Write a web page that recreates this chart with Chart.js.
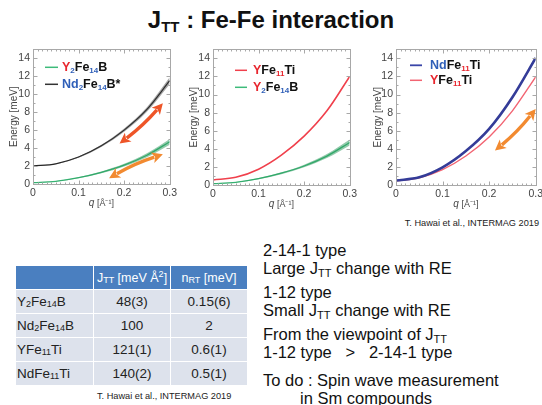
<!DOCTYPE html>
<html><head><meta charset="utf-8">
<script src="https://cdn.jsdelivr.net/npm/chart.js@4.4.1/dist/chart.umd.min.js"></script>
<style>
html,body{margin:0;padding:0;width:542px;height:405px;overflow:hidden;background:#fff;font-family:"Liberation Sans",Arial,sans-serif;}
.abs{position:absolute;}
#title{left:0;top:5px;width:542px;text-align:center;font-weight:bold;font-size:24px;color:#111;line-height:30px;}
#title sub{font-size:15px;vertical-align:-4px;line-height:0;}
.cite{font-size:9.2px;color:#222;white-space:nowrap;}
table{border-collapse:collapse;font-size:13.5px;color:#222;}
td,th{border:1px solid #fff;height:23px;padding:0;width:76px;text-align:center;font-weight:normal;}
th{background:#4a7fc0;color:#fff;font-size:12.5px;}
td{background:#dde2ec;}
td.n{text-align:left;padding-left:1px;}
.sb{font-size:9px;vertical-align:-1px;line-height:0;}
.sp{font-size:9px;vertical-align:5px;line-height:0;}
#notes{left:263px;top:241px;font-size:16.5px;color:#111;line-height:18px;white-space:nowrap;}
#notes p{margin:0 0 6px 0;}
#notes sub{font-size:11px;vertical-align:-3px;line-height:0;}
</style></head><body>
<div id="title" class="abs">J<sub>TT</sub> : Fe-Fe interaction</div>
<canvas id="c1" class="abs" style="left:0;top:40px" width="180" height="170"></canvas>
<canvas id="c2" class="abs" style="left:180px;top:40px" width="180" height="171"></canvas>
<canvas id="c3" class="abs" style="left:360px;top:40px" width="186" height="171"></canvas>
<div class="abs cite" style="right:3px;top:218px;">T. Hawai et al., INTERMAG 2019</div>
<table class="abs" style="left:15px;top:265px;">
<tr><th></th><th>J<span class="sb">TT</span> [meV Å<span class="sp">2</span>]</th><th>n<span class="sb">RT</span> [meV]</th></tr>
<tr><td class="n">Y<span class="sb">2</span>Fe<span class="sb">14</span>B</td><td>48(3)</td><td>0.15(6)</td></tr>
<tr><td class="n">Nd<span class="sb">2</span>Fe<span class="sb">14</span>B</td><td>100</td><td>2</td></tr>
<tr><td class="n">YFe<span class="sb">11</span>Ti</td><td>121(1)</td><td>0.6(1)</td></tr>
<tr><td class="n">NdFe<span class="sb">11</span>Ti</td><td>140(2)</td><td>0.5(1)</td></tr>
</table>
<div class="abs cite" style="left:97px;top:391px;">T. Hawai et al., INTERMAG 2019</div>
<div id="notes" class="abs">
<p>2-14-1 type<br>Large J<sub>TT</sub> change with RE</p>
<p>1-12 type<br>Small J<sub>TT</sub> change with RE</p>
<p>From the viewpoint of J<sub>TT</sub><br>1-12 type &nbsp;&nbsp;&gt;&nbsp;&nbsp; 2-14-1 type</p>
<p style="margin-top:10px">To do : Spin wave measurement<br><span style="padding-left:37px">in Sm compounds</span></p>
</div>
<script>
// ---- data ----
const q = [0, 0.05, 0.1, 0.15, 0.2, 0.25, 0.3];
const y2fe14b   = [0.15, 0.30, 0.70, 1.30, 2.10, 3.20, 4.70];
const y2fe14bLo = [0.12, 0.27, 0.64, 1.20, 1.95, 2.98, 4.38];
const y2fe14bHi = [0.18, 0.33, 0.76, 1.40, 2.25, 3.42, 5.02];
const nd2fe14b   = [2.00, 2.25, 3.00, 4.25, 6.00, 8.30, 11.50];
const nd2fe14bLo = [1.98, 2.22, 2.93, 4.13, 5.82, 8.04, 11.10];
const nd2fe14bHi = [2.02, 2.28, 3.07, 4.37, 6.18, 8.56, 11.90];
const yfe11ti  = [0.55, 0.85, 1.75, 3.30, 5.40, 8.20, 12.00];
const yfe11ti3 = [0.45, 0.80, 1.70, 3.20, 5.30, 8.20, 11.95];
const ndfe11ti = [0.50, 0.85, 1.95, 3.75, 6.20, 9.70, 14.05];
const xTicks = [0, 0.1, 0.2, 0.3];
const yTicks = [0, 2, 4, 6, 8, 10, 12, 14];
// arrows: [q1, E1, q2, E2]
const arrows1a = [0.19, 4.5, 0.285, 9.0];
const arrows1b = [0.167, 0.65, 0.285, 3.3];
const arrows3a = [0.2125, 3.8, 0.3, 8.4];

const RED='#e8262e', BLUE='#2f5fb8', BLK='#111';
const FONT='"Liberation Sans", Arial, sans-serif';
const pts = v => q.map((x,i)=>({x:x,y:v[i]}));

function drawRich(ctx, x, y, parts){
  for(const [t,c,s] of parts){
    ctx.font = s ? 'bold 8px '+FONT : 'bold 12.5px '+FONT;
    ctx.fillStyle = c;
    ctx.fillText(t, x, s ? y+3 : y);
    x += ctx.measureText(t).width;
  }
}
function arrow(ctx, p1, p2, color, bend){
  const dx=p2.x-p1.x, dy=p2.y-p1.y, L=Math.hypot(dx,dy), ux=dx/L, uy=dy/L;
  const nx=-uy, ny=ux, h=9, w=5.5;
  const mx=(p1.x+p2.x)/2+nx*bend, my=(p1.y+p2.y)/2+ny*bend;
  ctx.save(); ctx.strokeStyle=color; ctx.fillStyle=color; ctx.lineWidth=3.4; ctx.lineCap='butt';
  let t1x=mx-p1.x, t1y=my-p1.y, l1=Math.hypot(t1x,t1y); t1x/=l1; t1y/=l1;
  let t2x=p2.x-mx, t2y=p2.y-my, l2=Math.hypot(t2x,t2y); t2x/=l2; t2y/=l2;
  ctx.beginPath();
  ctx.moveTo(p1.x+t1x*h, p1.y+t1y*h);
  ctx.quadraticCurveTo(mx, my, p2.x-t2x*h, p2.y-t2y*h);
  ctx.stroke();
  const head=(px,py,tx,ty)=>{ctx.beginPath();ctx.moveTo(px,py);ctx.lineTo(px-tx*h*1.2-ty*w, py-ty*h*1.2+tx*w);ctx.lineTo(px-tx*h*0.9, py-ty*h*0.9);ctx.lineTo(px-tx*h*1.2+ty*w, py-ty*h*1.2-tx*w);ctx.closePath();ctx.fill();};
  head(p2.x,p2.y,t2x,t2y); head(p1.x,p1.y,-t1x,-t1y);
  ctx.restore();
}
const deco = {
  id:'deco',
  afterDatasetsDraw(chart, args, o){
    const {ctx, chartArea:a, scales:{x,y}} = chart;
    ctx.save();
    ctx.strokeStyle='#a8a8a8'; ctx.lineWidth=1;
    const L=Math.round(a.left)+0.5, R=Math.round(a.right)+0.5, T=Math.round(a.top)+0.5, B=Math.round(a.bottom)+0.5;
    ctx.strokeRect(L, T, R-L, B-T);
    ctx.beginPath();
    for(let i=0;i<=30;i++){ const px=Math.round(x.getPixelForValue(i/100))+0.5; const len=(i%10===0)?4:2;
      ctx.moveTo(px,B); ctx.lineTo(px,B-len); ctx.moveTo(px,T); ctx.lineTo(px,T+len); }
    for(let i=0;i<=15;i++){ const py=Math.round(y.getPixelForValue(i))+0.5; const len=(i%2===0)?4:2;
      ctx.moveTo(L,py); ctx.lineTo(L+len,py); ctx.moveTo(R,py); ctx.lineTo(R-len,py); }
    ctx.stroke();
    // x title
    ctx.fillStyle='#444'; ctx.textBaseline='alphabetic';
    const cx=(a.left+a.right)/2;
    ctx.font='italic 10px '+FONT; const w1=ctx.measureText('q').width;
    ctx.font='9px '+FONT; const t2=' [Å\u207B\u00B9]'; const w2=ctx.measureText(t2).width;
    const sx=cx-(w1+w2)/2, by=a.bottom+22;
    ctx.font='italic 10px '+FONT; ctx.fillText('q', sx, by);
    ctx.font='9px '+FONT; ctx.fillText(t2, sx+w1, by);
    // arrows
    for(const ar of (o.arrows||[])){
      const [d,c,b]=ar;
      arrow(ctx,{x:x.getPixelForValue(d[0]),y:y.getPixelForValue(d[1])},{x:x.getPixelForValue(d[2]),y:y.getPixelForValue(d[3])},c,b);
    }
    // legend
    ctx.textBaseline='middle';
    (o.legend||[]).forEach((lg,i)=>{
      const ly=a.top+o.ly+i*o.dy;
      ctx.strokeStyle=lg.color; ctx.lineWidth=lg.lw;
      ctx.beginPath(); ctx.moveTo(a.left+o.lx, ly); ctx.lineTo(a.left+o.lx+o.lw, ly); ctx.stroke();
      drawRich(ctx, a.left+o.tx, ly, lg.parts);
    });
    ctx.restore();
  }
};
function makeChart(id, datasets, yw, yTitlePad, rightPad, plug){
  return new Chart(document.getElementById(id), {
    type:'line',
    data:{datasets},
    options:{
      responsive:false, animation:false, events:[],
      layout:{padding:{left:0,top:5,right:rightPad,bottom:0}},
      elements:{point:{radius:0}, line:{cubicInterpolationMode:'monotone'}},
      plugins:{legend:{display:false}, tooltip:{enabled:false}, deco:plug},
      scales:{
        x:{type:'linear', min:0, max:0.3,
           afterFit:s=>{s.height=26;},
           afterBuildTicks:s=>{s.ticks=xTicks.map(v=>({value:v}));},
           grid:{display:false, drawTicks:false}, border:{display:false},
           ticks:{padding:3, color:'#444', font:{size:10.5,family:FONT}, maxRotation:0,
                  callback:v=>String(Math.round(v*10)/10)}},
        y:{type:'linear', min:0, max:15,
           afterFit:s=>{s.width=yw;},
           afterBuildTicks:s=>{s.ticks=yTicks.map(v=>({value:v}));},
           grid:{display:false, drawTicks:false}, border:{display:false},
           title:{display:true, text:'Energy [meV]', color:'#444', font:{size:10,family:FONT}, padding:{top:yTitlePad,bottom:0}},
           ticks:{padding:3, color:'#444', font:{size:10.5,family:FONT}}}
      }
    },
    plugins:[deco]
  });
}
const band=(lo,hi,col)=>[
  {data:pts(lo), borderWidth:0, borderColor:'rgba(0,0,0,0)', fill:false},
  {data:pts(hi), borderWidth:0, borderColor:'rgba(0,0,0,0)', backgroundColor:col, fill:'-1'}];

makeChart('c1', [
  ...band(y2fe14bLo, y2fe14bHi, 'rgba(40,150,90,0.5)'),
  {data:pts(y2fe14b), borderColor:'#3dbb7a', borderWidth:1.3, fill:false},
  ...band(nd2fe14bLo, nd2fe14bHi, 'rgba(60,60,60,0.45)'),
  {data:pts(nd2fe14b), borderColor:'#222', borderWidth:1.2, fill:false}
], 33, 8, 5, {
  arrows:[[arrows1a,'#ee5528',3],[arrows1b,'#f28a30',-3]],
  lx:12, lw:13, tx:29, ly:18, dy:17,
  legend:[
    {color:'#3dbb7a', lw:1.5, parts:[['Y',RED],['2',BLUE,1],['Fe',BLK],['14',BLUE,1],['B',BLK]]},
    {color:'#333', lw:1.5, parts:[['Nd',BLUE],['2',BLUE,1],['Fe',BLK],['14',BLUE,1],['B*',BLK]]}
  ]});

makeChart('c2', [
  {data:pts(yfe11ti), borderColor:'#f0404c', borderWidth:1.6, fill:false},
  ...band(y2fe14bLo, y2fe14bHi, 'rgba(40,150,90,0.5)'),
  {data:pts(y2fe14b), borderColor:'#3dbb7a', borderWidth:1.3, fill:false}
], 33, 8, 5, {
  arrows:[], lx:22, lw:12, tx:40, ly:21, dy:17,
  legend:[
    {color:'#f0404c', lw:1.5, parts:[['Y',RED],['Fe',BLK],['11',RED,1],['Ti',BLK]]},
    {color:'#3dbb7a', lw:1.5, parts:[['Y',RED],['2',BLUE,1],['Fe',BLK],['14',BLUE,1],['B',BLK]]}
  ]});

makeChart('c3', [
  {data:pts(ndfe11ti), borderColor:'#343c98', borderWidth:2.6, fill:false},
  {data:pts(yfe11ti3), borderColor:'#f26472', borderWidth:1.4, fill:false}
], 36, 12, 6, {
  arrows:[[arrows3a,'#f28a30',3]], lx:14, lw:12, tx:34, ly:16, dy:15,
  legend:[
    {color:'#3a45a8', lw:1.8, parts:[['Nd',BLUE],['Fe',BLK],['11',RED,1],['Ti',BLK]]},
    {color:'#f26472', lw:1.5, parts:[['Y',RED],['Fe',BLK],['11',RED,1],['Ti',BLK]]}
  ]});
</script>
</body></html>
